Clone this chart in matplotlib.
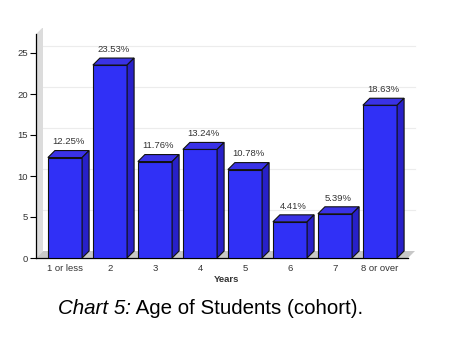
import matplotlib
matplotlib.use("Agg")
import matplotlib.pyplot as plt
from matplotlib.patches import Polygon

# data
categories = ["1 or less", "2", "3", "4", "5", "6", "7", "8 or over"]
percent = [12.25, 23.53, 11.76, 13.24, 10.78, 4.41, 5.39, 18.63]
yticks = [0, 5, 10, 15, 20, 25]

plt.rcParams['font.family'] = ['Liberation Sans', 'DejaVu Sans']

W, H = 466, 360
fig = plt.figure(figsize=(W / 100, H / 100), dpi=100)

# axes placed in pixels: left wall at 36, floor at 258, top at 28
px_left, px_right, px_bottom, px_top = 36, 417, 258, 28
ax = fig.add_axes([px_left / W, 1 - px_bottom / H,
                   (px_right - px_left) / W, (px_bottom - px_top) / H])

step = 45.0   # pixels per category
yscale = 8.2  # pixels per unit
x0 = -29.0 / step          # left edge of the front floor
x1 = x0 + (408 - 36) / step  # right edge of the front floor
ytop = 27.3
ax.set_xlim(x0, x0 + (px_right - px_left) / step)
ax.set_ylim(0, (px_bottom - px_top) / yscale)

# depth of the fake 3d
dx = 7 / step
dy = 7 / yscale
bw = 0.76

wall_c = "#dcdcdc"
floor_c = "#c8c8c8"
front_c = "#3030f6"
side_c = "#2820c8"
top_c = "#3a32e6"

# back wall and floor
ax.add_patch(Polygon([(x0, 0), (x0 + dx, dy), (x0 + dx, ytop + dy), (x0, ytop)],
                     closed=True, fc=wall_c, ec="none", zorder=1))
ax.add_patch(Polygon([(x0, 0), (x1, 0), (x1 + dx, dy), (x0 + dx, dy)],
                     closed=True, fc=floor_c, ec="none", zorder=1))
for t in yticks[1:]:
    ax.plot([x0 + dx, x1 + dx], [t + dy, t + dy], color="#ececec", lw=0.8, zorder=0.5)

xs = list(range(len(categories)))
ax.bar(xs, percent, width=bw, color=front_c, edgecolor="#111111", lw=0.8, zorder=3)
for x, v in zip(xs, percent):
    l, r = x - bw / 2, x + bw / 2
    ax.add_patch(Polygon([(l, v), (r, v), (r + dx, v + dy), (l + dx, v + dy)],
                         closed=True, fc=top_c, ec="#111111", lw=0.8, zorder=3))
    ax.add_patch(Polygon([(r, 0), (r + dx, dy), (r + dx, v + dy), (r, v)],
                         closed=True, fc=side_c, ec="#111111", lw=0.8, zorder=3))
    ax.annotate("%.2f%%" % v, (x + dx / 2, v + dy), xytext=(0, 3),
                textcoords="offset points", ha="center", va="bottom",
                fontsize=6.8, color="#333333")

# spines and ticks
for s in ["top", "right"]:
    ax.spines[s].set_visible(False)
ax.spines["left"].set_bounds(0, ytop)
ax.spines["bottom"].set_bounds(x0, x1)
ax.spines["left"].set_linewidth(0.9)
ax.spines["bottom"].set_linewidth(0.9)
ax.set_yticks(yticks)
ax.set_yticklabels([str(t) for t in yticks], fontsize=6.8, color="#333333")
ax.set_xticks(xs)
ax.set_xticklabels(categories, fontsize=6.8, color="#333333")
ax.tick_params(axis="y", length=4, width=0.8, pad=2)
ax.tick_params(axis="x", length=0, pad=4)
ax.set_xlabel("Years", fontsize=6.8, fontweight="bold", color="#333333", labelpad=2)

# caption, italic part then normal part
t1 = fig.text(58 / W, 1 - 314 / H, "Chart 5:", fontsize=14.8, style="italic",
              ha="left", va="baseline")
fig.canvas.draw()
bb = t1.get_window_extent()
fig.text(bb.x1 / W, 1 - 314 / H, " Age of Students (cohort).", fontsize=14.8,
         ha="left", va="baseline")

fig.savefig("out.png", dpi=100)
